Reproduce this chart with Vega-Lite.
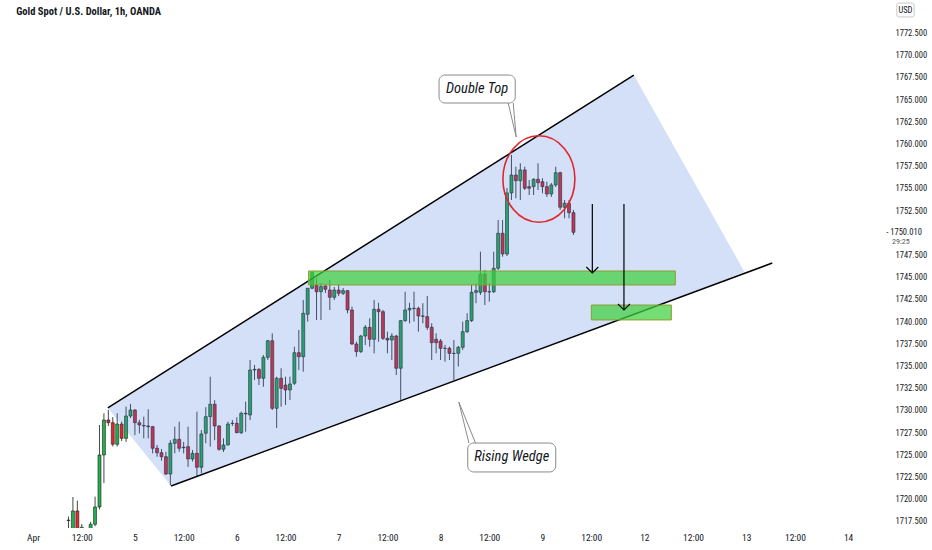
{
"$schema":"https://vega.github.io/schema/vega-lite/v6.json",
"width":888,"height":528,
"autosize":{"type":"none"},
"padding":{"left":0,"top":0,"right":44,"bottom":22},
"background":"white",
"config":{"view":{"stroke":null},"axis":{"domain":false,"ticks":false,"grid":false,"labelFont":"Liberation Sans Narrow, Roboto Condensed, DejaVu Sans Condensed, Liberation Sans, sans-serif","labelColor":"#131722","labelFontSize":10,"title":null}},
"datasets":{
"candles":[
{"i":0,"o":1717.6,"h":1718.0,"l":1716.4,"c":1717.55},
{"i":1,"o":1716.3,"h":1720.2,"l":1716.0,"c":1718.63},
{"i":2,"o":1718.63,"h":1719.79,"l":1716.0,"c":1716.3},
{"i":3,"o":1716.6,"h":1717.16,"l":1716.0,"c":1716.8},
{"i":4,"o":1716.2,"h":1716.6,"l":1715.8,"c":1716.4},
{"i":5,"o":1716.4,"h":1717.4,"l":1716.0,"c":1717.13},
{"i":6,"o":1717.13,"h":1720.24,"l":1716.9,"c":1719.08},
{"i":7,"o":1719.08,"h":1728.31,"l":1718.8,"c":1724.93},
{"i":8,"o":1724.93,"h":1729.63,"l":1721.78,"c":1728.87},
{"i":9,"o":1728.87,"h":1730.0,"l":1728.2,"c":1728.57},
{"i":10,"o":1728.57,"h":1729.2,"l":1725.9,"c":1726.14},
{"i":11,"o":1726.14,"h":1729.63,"l":1725.87,"c":1728.42},
{"i":12,"o":1728.42,"h":1728.7,"l":1726.5,"c":1726.81},
{"i":13,"o":1726.81,"h":1730.38,"l":1726.4,"c":1729.32},
{"i":14,"o":1729.32,"h":1730.68,"l":1729.1,"c":1730.0},
{"i":15,"o":1730.0,"h":1730.1,"l":1727.18,"c":1728.57},
{"i":16,"o":1728.57,"h":1728.9,"l":1727.37,"c":1728.31},
{"i":17,"o":1728.25,"h":1729.25,"l":1726.81,"c":1728.2},
{"i":18,"o":1728.2,"h":1730.08,"l":1726.81,"c":1728.12},
{"i":19,"o":1728.12,"h":1728.2,"l":1725.12,"c":1725.69},
{"i":20,"o":1725.69,"h":1726.06,"l":1724.74,"c":1725.19},
{"i":21,"o":1725.19,"h":1725.6,"l":1724.3,"c":1724.74},
{"i":22,"o":1724.74,"h":1725.3,"l":1722.68,"c":1722.79},
{"i":23,"o":1722.79,"h":1726.6,"l":1721.5,"c":1726.25},
{"i":24,"o":1726.25,"h":1728.12,"l":1725.12,"c":1726.7},
{"i":25,"o":1726.7,"h":1728.68,"l":1725.3,"c":1725.69},
{"i":26,"o":1725.8,"h":1726.4,"l":1725.12,"c":1725.75},
{"i":27,"o":1725.87,"h":1728.12,"l":1723.6,"c":1724.48},
{"i":28,"o":1724.48,"h":1725.5,"l":1724.2,"c":1725.12},
{"i":29,"o":1725.12,"h":1729.81,"l":1722.49,"c":1723.55},
{"i":30,"o":1723.55,"h":1727.75,"l":1722.87,"c":1727.3},
{"i":31,"o":1727.38,"h":1730.31,"l":1726.25,"c":1729.25},
{"i":32,"o":1729.25,"h":1733.75,"l":1725.87,"c":1730.64},
{"i":33,"o":1730.64,"h":1731.1,"l":1726.6,"c":1728.2},
{"i":34,"o":1728.2,"h":1728.31,"l":1725.42,"c":1725.57},
{"i":35,"o":1725.57,"h":1726.81,"l":1725.27,"c":1726.06},
{"i":36,"o":1726.06,"h":1728.68,"l":1726.0,"c":1728.42},
{"i":37,"o":1728.5,"h":1728.87,"l":1728.2,"c":1728.48},
{"i":38,"o":1728.5,"h":1729.18,"l":1727.38,"c":1727.44},
{"i":39,"o":1727.44,"h":1729.81,"l":1727.3,"c":1729.63},
{"i":40,"o":1729.63,"h":1730.94,"l":1727.56,"c":1729.55},
{"i":41,"o":1729.44,"h":1735.63,"l":1728.87,"c":1734.5},
{"i":42,"o":1734.5,"h":1735.07,"l":1733.38,"c":1734.58},
{"i":43,"o":1734.58,"h":1734.7,"l":1732.81,"c":1733.57},
{"i":44,"o":1733.57,"h":1736.19,"l":1732.62,"c":1735.93},
{"i":45,"o":1735.93,"h":1737.88,"l":1735.63,"c":1737.8},
{"i":46,"o":1737.8,"h":1738.64,"l":1730.0,"c":1730.19},
{"i":47,"o":1730.19,"h":1733.75,"l":1727.97,"c":1733.57},
{"i":48,"o":1733.57,"h":1734.7,"l":1730.37,"c":1732.44},
{"i":49,"o":1732.81,"h":1733.75,"l":1730.56,"c":1732.25},
{"i":50,"o":1732.25,"h":1733.75,"l":1731.13,"c":1732.93},
{"i":51,"o":1733.01,"h":1737.13,"l":1732.81,"c":1736.45},
{"i":52,"o":1736.45,"h":1739.01,"l":1734.5,"c":1736.0},
{"i":53,"o":1736.0,"h":1742.39,"l":1734.31,"c":1740.89},
{"i":54,"o":1740.78,"h":1743.74,"l":1739.95,"c":1743.71},
{"i":55,"o":1743.71,"h":1745.65,"l":1743.6,"c":1745.46},
{"i":56,"o":1744.08,"h":1744.86,"l":1740.14,"c":1743.32},
{"i":57,"o":1743.32,"h":1744.3,"l":1740.14,"c":1743.89},
{"i":58,"o":1743.96,"h":1744.19,"l":1743.17,"c":1743.59},
{"i":59,"o":1743.51,"h":1744.64,"l":1741.26,"c":1742.69},
{"i":60,"o":1742.69,"h":1743.85,"l":1742.39,"c":1743.51},
{"i":61,"o":1743.51,"h":1744.08,"l":1742.84,"c":1743.14},
{"i":62,"o":1743.14,"h":1743.74,"l":1742.95,"c":1743.44},
{"i":63,"o":1743.44,"h":1743.51,"l":1740.89,"c":1741.26},
{"i":64,"o":1741.26,"h":1741.63,"l":1737.32,"c":1737.43},
{"i":65,"o":1737.43,"h":1737.69,"l":1736.0,"c":1736.57},
{"i":66,"o":1736.57,"h":1738.45,"l":1736.42,"c":1738.33},
{"i":67,"o":1738.33,"h":1739.57,"l":1737.32,"c":1739.31},
{"i":68,"o":1739.31,"h":1740.33,"l":1737.13,"c":1737.96},
{"i":69,"o":1737.96,"h":1742.39,"l":1736.38,"c":1741.34},
{"i":70,"o":1741.34,"h":1742.08,"l":1737.69,"c":1741.07},
{"i":71,"o":1741.07,"h":1741.26,"l":1737.88,"c":1738.07},
{"i":72,"o":1738.07,"h":1738.82,"l":1736.38,"c":1737.88},
{"i":73,"o":1737.88,"h":1738.64,"l":1735.63,"c":1738.33},
{"i":74,"o":1738.33,"h":1738.45,"l":1733.94,"c":1734.7},
{"i":75,"o":1734.7,"h":1740.14,"l":1731.13,"c":1740.06},
{"i":76,"o":1740.06,"h":1743.32,"l":1739.91,"c":1741.26},
{"i":77,"o":1741.26,"h":1742.08,"l":1739.76,"c":1741.45},
{"i":78,"o":1741.45,"h":1743.32,"l":1739.95,"c":1741.42},
{"i":79,"o":1741.45,"h":1741.63,"l":1738.82,"c":1740.59},
{"i":80,"o":1740.59,"h":1742.02,"l":1739.76,"c":1740.55},
{"i":81,"o":1740.51,"h":1742.84,"l":1739.01,"c":1739.31},
{"i":82,"o":1739.31,"h":1739.76,"l":1735.63,"c":1737.58},
{"i":83,"o":1737.96,"h":1738.64,"l":1736.38,"c":1737.58},
{"i":84,"o":1737.77,"h":1738.0,"l":1735.63,"c":1736.95},
{"i":85,"o":1736.95,"h":1737.32,"l":1735.44,"c":1736.93},
{"i":86,"o":1736.95,"h":1737.13,"l":1735.63,"c":1736.38},
{"i":87,"o":1736.38,"h":1737.88,"l":1733.38,"c":1736.36},
{"i":88,"o":1736.38,"h":1737.21,"l":1734.88,"c":1737.06},
{"i":89,"o":1737.06,"h":1739.95,"l":1736.76,"c":1738.82},
{"i":90,"o":1738.82,"h":1740.89,"l":1738.67,"c":1740.06},
{"i":91,"o":1740.06,"h":1744.08,"l":1739.91,"c":1743.25},
{"i":92,"o":1743.25,"h":1744.27,"l":1742.02,"c":1743.44},
{"i":93,"o":1743.25,"h":1747.83,"l":1742.95,"c":1745.31},
{"i":94,"o":1745.31,"h":1745.77,"l":1741.82,"c":1743.32},
{"i":95,"o":1743.32,"h":1744.27,"l":1742.2,"c":1743.3},
{"i":96,"o":1743.32,"h":1747.83,"l":1743.17,"c":1745.96},
{"i":97,"o":1745.96,"h":1751.4,"l":1745.77,"c":1749.9},
{"i":98,"o":1749.9,"h":1751.4,"l":1747.26,"c":1747.57},
{"i":99,"o":1747.57,"h":1755.0,"l":1747.34,"c":1754.44},
{"i":100,"o":1754.44,"h":1758.72,"l":1753.65,"c":1756.46},
{"i":101,"o":1756.46,"h":1757.4,"l":1753.84,"c":1755.82},
{"i":102,"o":1755.82,"h":1757.78,"l":1753.65,"c":1757.03},
{"i":103,"o":1757.03,"h":1757.4,"l":1754.77,"c":1754.97},
{"i":104,"o":1755.15,"h":1755.9,"l":1754.21,"c":1754.97},
{"i":105,"o":1755.15,"h":1756.09,"l":1754.21,"c":1755.98},
{"i":106,"o":1755.98,"h":1757.78,"l":1754.77,"c":1755.6},
{"i":107,"o":1755.71,"h":1756.09,"l":1754.4,"c":1755.15},
{"i":108,"o":1755.15,"h":1755.71,"l":1753.99,"c":1754.32},
{"i":109,"o":1754.32,"h":1755.56,"l":1753.99,"c":1755.34},
{"i":110,"o":1755.34,"h":1757.4,"l":1755.11,"c":1756.72},
{"i":111,"o":1756.72,"h":1756.84,"l":1752.52,"c":1752.83},
{"i":112,"o":1752.83,"h":1753.65,"l":1751.59,"c":1753.28},
{"i":113,"o":1753.28,"h":1753.65,"l":1751.59,"c":1752.22},
{"i":114,"o":1752.22,"h":1752.52,"l":1749.71,"c":1750.01}
],
"wedge":[
{"i":8.88,"top":1730.23,"bot":1730.23},
{"i":23.17,"top":1734.73,"bot":1721.44},
{"i":127.63,"top":1767.72,"bot":1740.78},
{"i":152.63,"top":1745.54,"bot":1745.54}
],
"trend":[
{"i1":8.88,"p1":1730.23,"i2":127.63,"p2":1767.72},
{"i1":23.17,"p1":1721.44,"i2":158.88,"p2":1746.55}
],
"zones":[
{"i1":54.2,"i2":137.0,"p1":1745.65,"p2":1744.08},
{"i1":118.04,"i2":136.1,"p1":1741.82,"p2":1740.14}
],
"arrows":[
{"i":118.26,"p1":1753.2,"p2":1745.43},
{"i":125.4,"p1":1753.2,"p2":1741.26}
],
"circle":[{"i":106.2,"p":1756.01}],
"boxes":[
{"i1":83.66,"i2":100.85,"p1":1767.72,"p2":1764.57,"ti":92.26,"tp":1766.15,"label":"Double Top"},
{"i1":90.13,"i2":110.0,"p1":1726.28,"p2":1723.02,"ti":100.07,"tp":1724.65,"label":"Rising Wedge"}
],
"pointers":[
{"i1":99.27,"p1":1764.57,"i2":101.07,"p2":1760.74},
{"i1":100.4,"p1":1764.57,"i2":101.07,"p2":1760.74},
{"i1":88.12,"p1":1730.9,"i2":90.4,"p2":1726.28},
{"i1":88.12,"p1":1730.9,"i2":91.9,"p2":1726.28}
],
"title":[{"i":-11.8,"p":1774.82,"label":"Gold Spot / U.S. Dollar, 1h, OANDA"}],
"price":[{"i":184.6,"p":1750.01,"label":"- 1750.010"}],
"timer":[{"i":185.9,"p":1748.95,"label":"29:25"}],
"usdbox":[{"i1":187.0,"i2":190.9,"p1":1775.83,"p2":1774.26,"ti":188.95,"tp":1775.04,"label":"USD"}]
},
"encoding":{
  "x":{"type":"quantitative","scale":{"domain":[-14.33,183.88],"nice":false,"zero":false},
       "axis":{"orient":"bottom","values":[-8,3,15,26,38,49,61,72,84,95,107,118,130,141,153,164,176],
               "labelExpr":"datum.value == -8 ? 'Apr' : datum.value == 15 ? '5' : datum.value == 38 ? '6' : datum.value == 61 ? '7' : datum.value == 84 ? '8' : datum.value == 107 ? '9' : datum.value == 130 ? '12' : datum.value == 153 ? '13' : datum.value == 176 ? '14' : '12:00'",
               "labelPadding":4,"labelOverlap":false,"labelFlush":false,"labelFontSize":9.5,"title":null}},
  "y":{"type":"quantitative","scale":{"domain":[1716.71,1776.17],"nice":false,"zero":false},
       "axis":{"orient":"right","values":[1717.5,1720,1722.5,1725,1727.5,1730,1732.5,1735,1737.5,1740,1742.5,1745,1747.5,1752.5,1755,1757.5,1760,1762.5,1765,1767.5,1770,1772.5],
               "format":".3f","labelPadding":7,"labelOverlap":false,"labelFlush":false,"labelFontSize":8.5,"title":null}}
},
"layer":[
{"data":{"name":"candles"},
 "mark":{"type":"rule","clip":true,"strokeWidth":1,"color":"#474747"},
 "encoding":{"x":{"field":"i"},"y":{"field":"l"},"y2":{"field":"h"}}},
{"data":{"name":"candles"},
 "mark":{"type":"bar","clip":true,"size":3,"stroke":"#1c1c1c","strokeWidth":0.6},
 "encoding":{"x":{"field":"i"},"y":{"field":"o"},"y2":{"field":"c"},
  "fill":{"condition":{"test":"datum.c >= datum.o","value":"#22b14c"},"value":"#e5262f"}}},
{"data":{"name":"wedge"},
 "mark":{"type":"area","fill":"#3d6ee0","fillOpacity":0.22,"orient":"vertical"},
 "encoding":{"x":{"field":"i"},"y":{"field":"top"},"y2":{"field":"bot"}}},
{"data":{"name":"trend"},
 "mark":{"type":"rule","color":"#000000","strokeWidth":1.5},
 "encoding":{"x":{"field":"i1"},"y":{"field":"p1"},"x2":{"field":"i2"},"y2":{"field":"p2"}}},
{"data":{"name":"zones"},
 "mark":{"type":"rect","fill":"#3fd03f","fillOpacity":0.72,"stroke":"#8c9d2e","strokeWidth":1},
 "encoding":{"x":{"field":"i1"},"x2":{"field":"i2"},"y":{"field":"p1"},"y2":{"field":"p2"}}},
{"data":{"name":"arrows"},
 "mark":{"type":"rule","color":"#000000","strokeWidth":1.2},
 "encoding":{"x":{"field":"i"},"y":{"field":"p1"},"y2":{"field":"p2"}}},
{"data":{"name":"arrows"},
 "mark":{"type":"point","shape":"M-1,-1L0,0L1,-1","size":144,"filled":false,"stroke":"#000000","strokeWidth":1.2,"opacity":1},
 "encoding":{"x":{"field":"i"},"y":{"field":"p2"}}},
{"data":{"name":"circle"},
 "mark":{"type":"point","shape":"M-1,0A1,1.2,0,1,1,1,0A1,1.2,0,1,1,-1,0Z","size":5184,"filled":false,"stroke":"#e0262b","strokeWidth":1.6,"opacity":1},
 "encoding":{"x":{"field":"i"},"y":{"field":"p"}}},
{"data":{"name":"boxes"},
 "mark":{"type":"rect","fill":"#ffffff","stroke":"#8a8a8a","strokeWidth":1,"cornerRadius":6},
 "encoding":{"x":{"field":"i1"},"x2":{"field":"i2"},"y":{"field":"p1"},"y2":{"field":"p2"}}},
{"data":{"name":"pointers"},
 "mark":{"type":"rule","color":"#8a8a8a","strokeWidth":1},
 "encoding":{"x":{"field":"i1"},"y":{"field":"p1"},"x2":{"field":"i2"},"y2":{"field":"p2"}}},
{"data":{"name":"boxes"},
 "mark":{"type":"text","fontSize":14.5,"fontStyle":"italic","font":"Liberation Sans Narrow, Roboto Condensed, DejaVu Sans Condensed, Liberation Sans, sans-serif","color":"#131722","align":"center","baseline":"middle"},
 "encoding":{"x":{"field":"ti"},"y":{"field":"tp"},"text":{"field":"label"}}},
{"data":{"name":"title"},
 "mark":{"type":"text","fontSize":10.5,"fontWeight":"bold","font":"Liberation Sans Narrow, Roboto Condensed, DejaVu Sans Condensed, Liberation Sans, sans-serif","color":"#131722","align":"left","baseline":"middle"},
 "encoding":{"x":{"field":"i"},"y":{"field":"p"},"text":{"field":"label"}}},
{"data":{"name":"price"},
 "mark":{"type":"text","fontSize":8.5,"font":"Liberation Sans Narrow, Roboto Condensed, DejaVu Sans Condensed, Liberation Sans, sans-serif","color":"#131722","align":"left","baseline":"middle"},
 "encoding":{"x":{"field":"i"},"y":{"field":"p"},"text":{"field":"label"}}},
{"data":{"name":"timer"},
 "mark":{"type":"text","fontSize":8,"font":"Liberation Sans Narrow, Roboto Condensed, DejaVu Sans Condensed, Liberation Sans, sans-serif","color":"#555555","align":"left","baseline":"middle"},
 "encoding":{"x":{"field":"i"},"y":{"field":"p"},"text":{"field":"label"}}},
{"data":{"name":"usdbox"},
 "mark":{"type":"rect","fill":"#ffffff","stroke":"#c8c8c8","strokeWidth":1,"cornerRadius":2},
 "encoding":{"x":{"field":"i1"},"x2":{"field":"i2"},"y":{"field":"p1"},"y2":{"field":"p2"}}},
{"data":{"name":"usdbox"},
 "mark":{"type":"text","fontSize":8.5,"font":"Liberation Sans Narrow, Roboto Condensed, DejaVu Sans Condensed, Liberation Sans, sans-serif","color":"#131722","align":"center","baseline":"middle"},
 "encoding":{"x":{"field":"ti"},"y":{"field":"tp"},"text":{"field":"label"}}}
]
}
